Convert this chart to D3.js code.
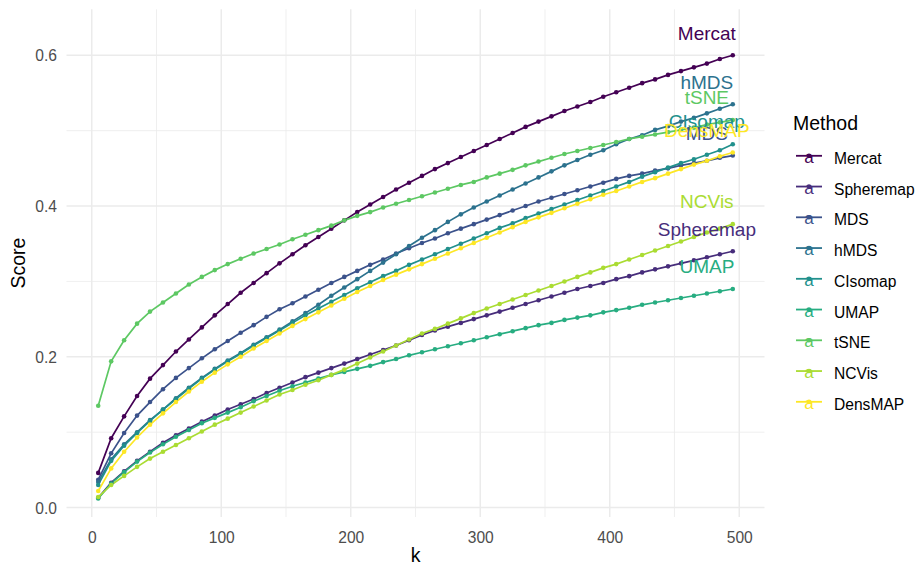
<!DOCTYPE html>
<html>
<head>
<meta charset="utf-8">
<script src="https://cdn.jsdelivr.net/npm/d3@7"></script>
<style>
  body { margin: 0; background: #fff; }
  text { font-family: "Liberation Sans", Arial, sans-serif; }
</style>
</head>
<body>
<div id="d3-container"></div>
<script>
/**
 * CONSTANTS AND GLOBALS
 * */
const width = 922,
  height = 566;

// k values (x axis)
const kValues = [5, 15, 25, 35, 45, 55, 65, 75, 85, 95, 105, 115, 125, 135, 145, 155, 165, 175, 185, 195,
  205, 215, 225, 235, 245, 255, 265, 275, 285, 295, 305, 315, 325, 335, 345, 355, 365, 375, 385, 395,
  405, 415, 425, 435, 445, 455, 465, 475, 485, 495];

const methods = ["Mercat", "Spheremap", "MDS", "hMDS", "CIsomap", "UMAP", "tSNE", "NCVis", "DensMAP"];

// scores per method
const mercat = [0.046, 0.092, 0.121, 0.148, 0.171, 0.189, 0.207, 0.223, 0.239, 0.255, 0.270, 0.285, 0.298, 0.311, 0.324, 0.336, 0.348, 0.359, 0.370, 0.381,
  0.392, 0.402, 0.412, 0.422, 0.431, 0.440, 0.449, 0.457, 0.465, 0.473, 0.481, 0.489, 0.497, 0.505, 0.512, 0.519, 0.526, 0.532, 0.538, 0.545,
  0.551, 0.557, 0.563, 0.568, 0.574, 0.579, 0.584, 0.589, 0.595, 0.600];
const spheremap = [0.013, 0.033, 0.048, 0.062, 0.074, 0.086, 0.096, 0.105, 0.114, 0.122, 0.130, 0.137, 0.144, 0.152, 0.159, 0.166, 0.173, 0.179, 0.185, 0.191,
  0.197, 0.203, 0.209, 0.215, 0.222, 0.229, 0.235, 0.240, 0.245, 0.250, 0.255, 0.260, 0.265, 0.270, 0.275, 0.280, 0.285, 0.290, 0.294, 0.298,
  0.303, 0.307, 0.312, 0.316, 0.320, 0.324, 0.328, 0.332, 0.336, 0.340];
const mds = [0.037, 0.072, 0.099, 0.122, 0.140, 0.157, 0.172, 0.185, 0.198, 0.210, 0.221, 0.232, 0.242, 0.253, 0.263, 0.271, 0.280, 0.289, 0.298, 0.306,
  0.314, 0.322, 0.329, 0.337, 0.344, 0.351, 0.357, 0.364, 0.370, 0.376, 0.382, 0.388, 0.394, 0.400, 0.406, 0.411, 0.416, 0.421, 0.426, 0.431,
  0.436, 0.440, 0.443, 0.447, 0.450, 0.454, 0.457, 0.460, 0.464, 0.467];
const hmds = [0.034, 0.064, 0.084, 0.100, 0.116, 0.130, 0.145, 0.159, 0.172, 0.184, 0.195, 0.205, 0.216, 0.226, 0.236, 0.247, 0.258, 0.269, 0.281, 0.292,
  0.303, 0.314, 0.325, 0.336, 0.347, 0.358, 0.368, 0.379, 0.389, 0.398, 0.406, 0.414, 0.422, 0.430, 0.438, 0.446, 0.454, 0.461, 0.468, 0.474,
  0.482, 0.489, 0.494, 0.501, 0.506, 0.512, 0.517, 0.523, 0.529, 0.535];
const cisomap = [0.030, 0.062, 0.082, 0.099, 0.115, 0.130, 0.144, 0.158, 0.171, 0.183, 0.194, 0.204, 0.215, 0.225, 0.235, 0.245, 0.255, 0.264, 0.273, 0.282,
  0.291, 0.299, 0.307, 0.314, 0.322, 0.329, 0.336, 0.343, 0.350, 0.357, 0.364, 0.371, 0.377, 0.384, 0.390, 0.396, 0.402, 0.408, 0.414, 0.420,
  0.426, 0.432, 0.439, 0.445, 0.451, 0.457, 0.462, 0.468, 0.474, 0.482];
const umap = [0.012, 0.032, 0.047, 0.061, 0.073, 0.084, 0.094, 0.103, 0.112, 0.119, 0.126, 0.133, 0.141, 0.148, 0.155, 0.161, 0.166, 0.171, 0.176, 0.180,
  0.184, 0.188, 0.193, 0.197, 0.202, 0.206, 0.210, 0.214, 0.218, 0.222, 0.226, 0.230, 0.234, 0.238, 0.242, 0.245, 0.249, 0.252, 0.255, 0.259,
  0.262, 0.265, 0.269, 0.272, 0.275, 0.278, 0.281, 0.284, 0.287, 0.290];
const tsne = [0.135, 0.194, 0.222, 0.244, 0.260, 0.272, 0.284, 0.296, 0.306, 0.315, 0.323, 0.330, 0.337, 0.343, 0.349, 0.356, 0.362, 0.368, 0.374, 0.381,
  0.387, 0.392, 0.398, 0.403, 0.408, 0.413, 0.418, 0.423, 0.428, 0.432, 0.438, 0.443, 0.448, 0.454, 0.459, 0.464, 0.469, 0.473, 0.477, 0.481,
  0.485, 0.489, 0.492, 0.495, 0.498, 0.501, 0.504, 0.508, 0.511, 0.514];
const ncvis = [0.014, 0.030, 0.042, 0.054, 0.065, 0.074, 0.083, 0.092, 0.101, 0.110, 0.118, 0.126, 0.134, 0.142, 0.150, 0.156, 0.163, 0.169, 0.176, 0.183,
  0.191, 0.199, 0.207, 0.215, 0.223, 0.231, 0.237, 0.244, 0.251, 0.258, 0.264, 0.270, 0.276, 0.282, 0.288, 0.294, 0.300, 0.306, 0.312, 0.318,
  0.323, 0.329, 0.335, 0.341, 0.347, 0.353, 0.359, 0.365, 0.370, 0.376];
const densmap = [0.022, 0.052, 0.074, 0.093, 0.110, 0.125, 0.140, 0.154, 0.167, 0.179, 0.190, 0.200, 0.211, 0.221, 0.231, 0.241, 0.250, 0.259, 0.268, 0.277,
  0.286, 0.294, 0.302, 0.309, 0.316, 0.323, 0.330, 0.337, 0.344, 0.351, 0.358, 0.365, 0.372, 0.379, 0.385, 0.391, 0.397, 0.403, 0.409, 0.415,
  0.420, 0.426, 0.432, 0.437, 0.443, 0.449, 0.455, 0.460, 0.466, 0.471];

const xTicks = [0, 100, 200, 300, 400, 500];
const xMinor = [50, 150, 250, 350, 450];
const yTicks = [0.0, 0.2, 0.4, 0.6];
const yMinor = [0.1, 0.3, 0.5];

const colors = ["#440154", "#472D7B", "#3B528B", "#2C728E", "#21908C", "#27AD81", "#5DC863", "#AADC32", "#FDE725"];

// label placement: a bit left of the last k, a bit above the last score
const labelK = 475,
  labelLift = 0.03;

/**
 * BUILD SERIES
 * */
const seriesValues = [mercat, spheremap, mds, hmds, cisomap, umap, tsne, ncvis, densmap];
const series = methods.map((m, i) => ({
  name: m,
  color: colors[i],
  points: kValues.map((k, j) => ({ k: k, score: seriesValues[i][j] }))
}));

/**
 * SCALES
 * */
const xScale = d3.scaleLinear().domain([-19.5, 519.5]).range([66.5, 764.5]);
const yScale = d3.scaleLinear().domain([-0.0125, 0.661]).range([517, 9.3]);

const svg = d3
  .select("#d3-container")
  .append("svg")
  .attr("width", width)
  .attr("height", height);

const [px0, px1] = xScale.range();
const [py1, py0] = yScale.range();

// GRID
const grid = svg.append("g").attr("class", "grid");
grid.selectAll(".ymin")
  .data(yMinor)
  .join("line")
  .attr("x1", px0).attr("x2", px1)
  .attr("y1", d => yScale(d)).attr("y2", d => yScale(d))
  .attr("stroke", "#EBEBEB").attr("stroke-width", 0.8);
grid.selectAll(".xmin")
  .data(xMinor)
  .join("line")
  .attr("x1", d => xScale(d)).attr("x2", d => xScale(d))
  .attr("y1", py0).attr("y2", py1)
  .attr("stroke", "#EBEBEB").attr("stroke-width", 0.8);
grid.selectAll(".ymaj")
  .data(yTicks)
  .join("line")
  .attr("x1", px0).attr("x2", px1)
  .attr("y1", d => yScale(d)).attr("y2", d => yScale(d))
  .attr("stroke", "#EBEBEB").attr("stroke-width", 1.5);
grid.selectAll(".xmaj")
  .data(xTicks)
  .join("line")
  .attr("x1", d => xScale(d)).attr("x2", d => xScale(d))
  .attr("y1", py0).attr("y2", py1)
  .attr("stroke", "#EBEBEB").attr("stroke-width", 1.5);

// AXES (labels only, theme_minimal has no axis lines)
const xAxis = d3.axisBottom(xScale).tickValues(xTicks).tickSize(0).tickPadding(0).tickFormat(d3.format("d"));
const yAxis = d3.axisLeft(yScale).tickValues(yTicks).tickSize(0).tickPadding(0).tickFormat(d3.format(".1f"));

svg.append("g")
  .attr("class", "axis x-axis")
  .attr("transform", `translate(0,${py1 + 26})`)
  .call(xAxis)
  .call(g => g.select(".domain").remove())
  .selectAll("text")
  .attr("dy", 0)
  .attr("y", 0)
  .attr("fill", "#4D4D4D")
  .style("font-size", "15.6px")
  .style("font-family", '"Liberation Sans", Arial, sans-serif');

svg.append("g")
  .attr("class", "axis y-axis")
  .attr("transform", `translate(${px0 - 9.5},0)`)
  .call(yAxis)
  .call(g => g.select(".domain").remove())
  .selectAll("text")
  .attr("x", 0)
  .attr("dy", "0.36em")
  .attr("fill", "#4D4D4D")
  .style("font-size", "15.6px")
  .style("font-family", '"Liberation Sans", Arial, sans-serif');

svg.append("text")
  .attr("x", (px0 + px1) / 2)
  .attr("y", 562)
  .attr("text-anchor", "middle")
  .attr("font-size", 19.5)
  .text("k");

svg.append("text")
  .attr("transform", `translate(25,${(py0 + py1) / 2}) rotate(-90)`)
  .attr("text-anchor", "middle")
  .attr("font-size", 19.5)
  .text("Score");

/**
 * LINES, POINTS, LABELS
 * */
const line = d3.line().x(d => xScale(d.k)).y(d => yScale(d.score));

const marks = svg.append("g").attr("class", "marks");

marks.selectAll(".series")
  .data(series)
  .join("path")
  .attr("class", "series")
  .attr("fill", "none")
  .attr("stroke", d => d.color)
  .attr("stroke-width", 1.7)
  .attr("d", d => line(d.points));

marks.selectAll(".dots")
  .data(series)
  .join("g")
  .attr("class", "dots")
  .attr("fill", d => d.color)
  .selectAll("circle")
  .data(d => d.points)
  .join("circle")
  .attr("r", 2.3)
  .attr("cx", d => xScale(d.k))
  .attr("cy", d => yScale(d.score));

marks.selectAll(".end-label")
  .data(series)
  .join("text")
  .attr("class", "end-label")
  .attr("x", xScale(labelK))
  .attr("y", d => yScale(d.points[d.points.length - 1].score + labelLift))
  .attr("dy", "0.36em")
  .attr("text-anchor", "middle")
  .attr("font-size", 19)
  .attr("fill", d => d.color)
  .text(d => d.name);

/**
 * LEGEND
 * */
const legend = svg.append("g").attr("transform", "translate(793,0)");

legend.append("text")
  .attr("x", 0)
  .attr("y", 130)
  .attr("font-size", 19.5)
  .text("Method");

const rows = legend.selectAll(".key")
  .data(series)
  .join("g")
  .attr("class", "key")
  .attr("transform", (d, i) => `translate(0,${158.3 + i * 30.75})`);

rows.append("line")
  .attr("x1", 3).attr("x2", 29)
  .attr("y1", -2.5).attr("y2", -2.5)
  .attr("stroke", d => d.color)
  .attr("stroke-width", 1.8);
rows.append("circle")
  .attr("cx", 16).attr("cy", -2.5).attr("r", 2.3)
  .attr("fill", d => d.color);
rows.append("text")
  .attr("x", 16)
  .attr("y", 4.5)
  .attr("text-anchor", "middle")
  .attr("font-size", 17)
  .attr("fill", d => d.color)
  .text("a");
rows.append("text")
  .attr("x", 41)
  .attr("dy", "0.36em")
  .attr("font-size", 15.6)
  .attr("fill", "#000")
  .text(d => d.name);
</script>
</body>
</html>
